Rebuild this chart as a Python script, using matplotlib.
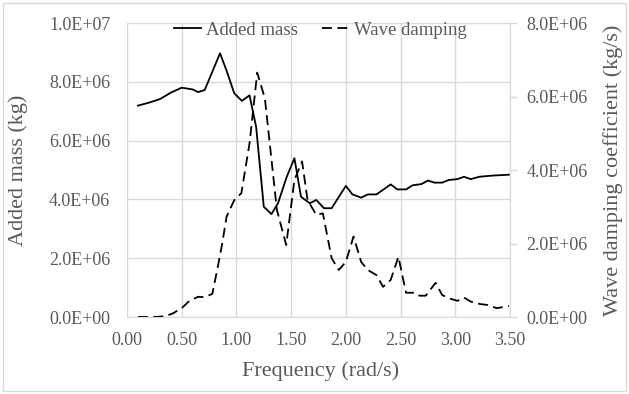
import numpy as np
import matplotlib
matplotlib.use("Agg")
import matplotlib.pyplot as plt
from matplotlib.ticker import FuncFormatter, MultipleLocator
from matplotlib.patches import Rectangle

# added mass (kg) vs frequency (rad/s)
freq_am = [0.10, 0.20, 0.30, 0.40, 0.50, 0.60, 0.65, 0.71, 0.85, 0.91, 0.98, 1.05,
           1.12, 1.18, 1.25, 1.32, 1.38, 1.46, 1.53, 1.59, 1.67, 1.73, 1.80, 1.87,
           2.00, 2.06, 2.14, 2.20, 2.28, 2.41, 2.47, 2.55, 2.61, 2.69, 2.75, 2.81,
           2.88, 2.94, 3.02, 3.08, 3.14, 3.22, 3.34, 3.49]
added_mass = [7.19, 7.29, 7.41, 7.63, 7.80, 7.74, 7.65, 7.72, 8.97, 8.38, 7.61, 7.35,
              7.54, 6.47, 3.75, 3.50, 3.87, 4.77, 5.40, 4.09, 3.87, 3.98, 3.70, 3.70,
              4.46, 4.17, 4.06, 4.17, 4.17, 4.51, 4.34, 4.34, 4.48, 4.52, 4.64, 4.57,
              4.57, 4.66, 4.69, 4.77, 4.69, 4.77, 4.81, 4.84]

# wave damping coefficient (kg/s)
freq_wd = [0.10, 0.27, 0.36, 0.42, 0.50, 0.57, 0.65, 0.71, 0.78, 0.83, 0.87, 0.91,
           0.98, 1.045, 1.12, 1.19, 1.26, 1.37, 1.455, 1.53, 1.60, 1.65, 1.73, 1.79,
           1.87, 1.935, 2.00, 2.07, 2.14, 2.20, 2.28, 2.34, 2.41, 2.48, 2.55, 2.63,
           2.67, 2.73, 2.82, 2.88, 2.94, 3.02, 3.08, 3.14, 3.23, 3.29, 3.38, 3.49]
wave_damping = [0.0, 0.0, 0.03, 0.10, 0.24, 0.44, 0.55, 0.54, 0.63, 1.37, 2.00, 2.73,
                3.18, 3.37, 4.73, 6.65, 5.95, 2.91, 1.96, 3.73, 4.23, 3.18, 2.78, 2.82,
                1.60, 1.28, 1.50, 2.19, 1.50, 1.28, 1.14, 0.82, 1.01, 1.64, 0.66, 0.66,
                0.58, 0.58, 0.93, 0.60, 0.51, 0.44, 0.53, 0.42, 0.35, 0.33, 0.24, 0.30]

added_mass = np.array(added_mass) * 1e6
wave_damping = np.array(wave_damping) * 1e6

plt.rcParams['font.family'] = ['Liberation Serif', 'DejaVu Serif']
grey = '#595959'
gridc = '#d9d9d9'

fig = plt.figure(figsize=(6.29, 3.94), dpi=100)
ax = fig.add_axes([127/629, 1 - 317/394, 383/629, 294/394])
ax2 = ax.twinx()

l1, = ax.plot(freq_am, added_mass, color='black', lw=1.3, label='Added mass')
l2, = ax2.plot(freq_wd, wave_damping, color='black', lw=1.3, dashes=(5.5, 3),
               label='Wave damping')

ax.set_xlim(0, 3.5)
ax.set_ylim(0, 1e7)
ax2.set_ylim(0, 8e6)
ax.xaxis.set_major_locator(MultipleLocator(0.5))
ax.yaxis.set_major_locator(MultipleLocator(2e6))
ax2.yaxis.set_major_locator(MultipleLocator(2e6))
ax.xaxis.set_major_formatter(FuncFormatter(lambda v, p: f"{v:.2f}"))
sci = FuncFormatter(lambda v, p: f"{v:.1E}")
ax.yaxis.set_major_formatter(sci)
ax2.yaxis.set_major_formatter(sci)

ax.grid(True, color=gridc, lw=1.0)
ax.set_axisbelow(True)
for a in (ax, ax2):
    for s in a.spines.values():
        s.set_visible(False)
ax.spines['bottom'].set_visible(True)
ax.spines['bottom'].set_color(gridc)
ax2.spines['right'].set_visible(True)
ax2.spines['right'].set_color(gridc)

ax.tick_params(axis='x', length=0, pad=11, labelsize=13, labelcolor=grey)
ax.tick_params(axis='y', length=0, pad=12, labelsize=13, labelcolor=grey)
ax2.tick_params(axis='y', length=5, width=1, color=gridc, pad=7, labelsize=13,
                labelcolor=grey)

ax.set_xlabel('Frequency (rad/s)', fontsize=16, color=grey)
ax.set_ylabel('Added mass (kg)', fontsize=16, color=grey)
ax2.set_ylabel('Wave damping coefficient (kg/s)', fontsize=16, color=grey)
ax.xaxis.set_label_coords(0.505, -0.15)
ax.yaxis.set_label_coords(-0.258, 0.5)
ax2.yaxis.set_label_coords(1.243, 0.5)

leg = ax.legend(handles=[l1, l2], loc='center', bbox_to_anchor=(0.505, 0.975), ncol=2,
                frameon=False, fontsize=13.5, handlelength=1.45, handletextpad=0.27,
                columnspacing=1.27, borderpad=0)
for t in leg.get_texts():
    t.set_color(grey)

fig.patches.append(Rectangle((0.005, 0.008), 0.99, 0.984, transform=fig.transFigure,
                             fill=False, edgecolor=gridc, lw=1))

fig.savefig('out.png', dpi=100)
